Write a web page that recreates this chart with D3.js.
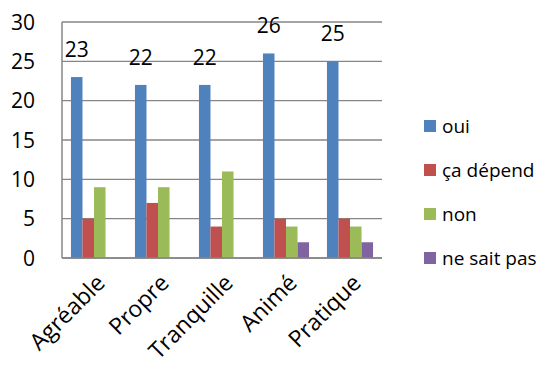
<!DOCTYPE html>
<html>
<head>
<meta charset="utf-8">
<script src="https://cdn.jsdelivr.net/npm/d3@7"></script>
<style>
  body { margin: 0; background: #fff; }
  text { font-family: "Open Sans", sans-serif; fill: #000; }
</style>
</head>
<body>
<script>
// chart data
var categories = ["Agréable", "Propre", "Tranquille", "Animé", "Pratique"];
var seriesNames = ["oui", "ça dépend", "non", "ne sait pas"];
var oui = [23, 22, 22, 26, 25];
var caDepend = [5, 7, 4, 5, 5];
var non = [9, 9, 11, 4, 4];
var neSaitPas = [0, 0, 0, 2, 2];
var yTicks = [0, 5, 10, 15, 20, 25, 30];
var colors = ["#4F81BD", "#C0504D", "#9BBB59", "#8064A2"];

var allSeries = [oui, caDepend, non, neSaitPas];

var svgWidth = 548;
var svgHeight = 369;
var margin = { top: 22, right: 166, bottom: 111, left: 62 };
var chartWidth = svgWidth - margin.left - margin.right;
var chartHeight = svgHeight - margin.top - margin.bottom;

var svg = d3.select("body")
  .append("svg")
  .attr("width", svgWidth)
  .attr("height", svgHeight);

var chartGroup = svg.append("g")
  .attr("transform", `translate(${margin.left}, ${margin.top})`);

var xScale = d3.scaleBand()
  .domain(categories)
  .range([0, chartWidth])
  .paddingInner(0.28)
  .paddingOuter(0.14);

var xSub = d3.scaleBand()
  .domain(seriesNames)
  .range([0, xScale.bandwidth()]);

var yScale = d3.scaleLinear()
  .domain([0, 30])
  .range([chartHeight, 0]);

// gridlines
chartGroup.selectAll(".grid")
  .data(yTicks)
  .enter()
  .append("line")
  .attr("x1", 0)
  .attr("x2", chartWidth)
  .attr("y1", d => yScale(d))
  .attr("y2", d => yScale(d))
  .attr("stroke", "#868686")
  .attr("stroke-width", 1.3);

// y tick labels
chartGroup.selectAll(".ytick")
  .data(yTicks)
  .enter()
  .append("text")
  .attr("x", -27)
  .attr("y", d => yScale(d))
  .attr("dy", "0.36em")
  .attr("text-anchor", "end")
  .attr("font-size", 21)
  .text(d => d);

// bars
var groups = chartGroup.selectAll(".cat")
  .data(categories)
  .enter()
  .append("g")
  .attr("transform", d => `translate(${xScale(d)}, 0)`);

groups.each(function(cat, ci) {
  var g = d3.select(this);
  allSeries.forEach(function(vals, si) {
    if (vals[ci] === 0) return;
    g.append("rect")
      .attr("x", xSub(seriesNames[si]))
      .attr("y", yScale(vals[ci]))
      .attr("width", xSub.bandwidth())
      .attr("height", chartHeight - yScale(vals[ci]))
      .attr("fill", colors[si]);
  });
});

// axis lines
chartGroup.append("line")
  .attr("x1", 0).attr("x2", 0)
  .attr("y1", 0).attr("y2", chartHeight)
  .attr("stroke", "#868686").attr("stroke-width", 1.5);
chartGroup.append("line")
  .attr("x1", 0).attr("x2", chartWidth)
  .attr("y1", chartHeight).attr("y2", chartHeight)
  .attr("stroke", "#868686").attr("stroke-width", 1.5);

// data labels for "oui"
chartGroup.selectAll(".lbl")
  .data(oui)
  .enter()
  .append("text")
  .attr("x", (d, i) => xScale(categories[i]) + xSub("oui") + xSub.bandwidth() / 2)
  .attr("y", d => yScale(d) - 20)
  .attr("text-anchor", "middle")
  .attr("font-size", 21)
  .text(d => d);

// category labels
chartGroup.selectAll(".xlbl")
  .data(categories)
  .enter()
  .append("text")
  .attr("transform", d => `translate(${xScale(d) + xScale.bandwidth() / 2 + 1}, ${chartHeight + 15}) rotate(-45)`)
  .attr("text-anchor", "end")
  .attr("dy", "0.7em")
  .attr("font-size", 23)
  .text(d => d);

// legend
var legend = svg.append("g")
  .attr("transform", "translate(424, 120)");

seriesNames.forEach(function(name, i) {
  var item = legend.append("g")
    .attr("transform", `translate(0, ${i * 44})`);
  item.append("rect")
    .attr("width", 12)
    .attr("height", 12)
    .attr("fill", colors[i]);
  item.append("text")
    .attr("x", 18)
    .attr("y", 6)
    .attr("dy", "0.36em")
    .attr("font-size", 19)
    .text(name);
});
</script>
</body>
</html>
